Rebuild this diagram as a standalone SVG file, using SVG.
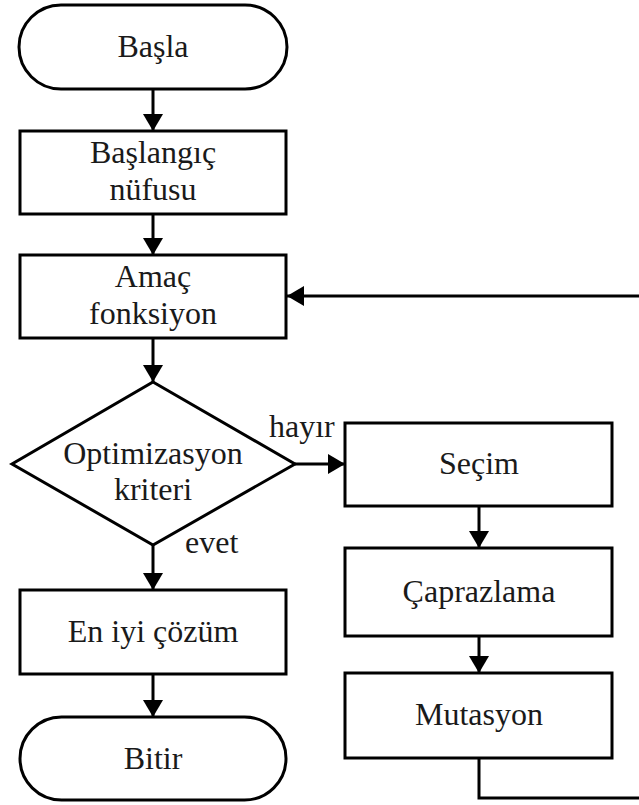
<svg xmlns="http://www.w3.org/2000/svg" width="639" height="805" viewBox="0 0 639 805">
<defs>
<style>
.shape{fill:#fff;stroke:#000;stroke-width:3}
.conn{fill:none;stroke:#000;stroke-width:3}
text{font-family:"Liberation Serif","Times New Roman",serif;font-size:32px;fill:#1a1a1a;text-anchor:middle}
.lbl{text-anchor:start}
</style>
<marker id="arr" markerUnits="userSpaceOnUse" markerWidth="22" markerHeight="22" viewBox="0 0 22 22" refX="17" refY="11" orient="auto">
<path d="M0,1 L17,11 L0,21 z" fill="#000"/>
</marker>
</defs>
<rect width="639" height="805" fill="#fff"/>
<g id="connectors">
<line class="conn" x1="153" y1="89" x2="153" y2="131" marker-end="url(#arr)"/>
<line class="conn" x1="153" y1="214" x2="153" y2="255" marker-end="url(#arr)"/>
<line class="conn" x1="153" y1="338" x2="153" y2="382" marker-end="url(#arr)"/>
<line class="conn" x1="295" y1="464" x2="345" y2="464" marker-end="url(#arr)"/>
<line class="conn" x1="153" y1="545" x2="153" y2="590" marker-end="url(#arr)"/>
<line class="conn" x1="153" y1="674" x2="153" y2="717" marker-end="url(#arr)"/>
<line class="conn" x1="479" y1="506" x2="479" y2="548" marker-end="url(#arr)"/>
<line class="conn" x1="479" y1="636" x2="479" y2="673" marker-end="url(#arr)"/>
<path class="conn" d="M479,758 V798 H643 V296 H287" marker-end="url(#arr)"/>
<text class="lbl" x="269" y="437">hayır</text>
<text class="lbl" x="185" y="553">evet</text>
</g>
<g id="basla">
<rect class="shape" x="19" y="5" width="268" height="84" rx="42" ry="42"/>
<text x="153" y="57">Başla</text>
</g>
<g id="baslangic">
<rect class="shape" x="20" y="131" width="266" height="83"/>
<text x="153" y="163">Başlangıç</text>
<text x="153" y="200">nüfusu</text>
</g>
<g id="amac">
<rect class="shape" x="20" y="255" width="266" height="83"/>
<text x="153" y="287">Amaç</text>
<text x="153" y="324">fonksiyon</text>
</g>
<g id="optimizasyon">
<polygon class="shape" points="153,382 295,464 153,545 12,464"/>
<text x="153" y="464">Optimizasyon</text>
<text x="153" y="500">kriteri</text>
</g>
<g id="secim">
<rect class="shape" x="345" y="423" width="267" height="83"/>
<text x="479" y="474">Seçim</text>
</g>
<g id="caprazlama">
<rect class="shape" x="345" y="548" width="267" height="88"/>
<text x="479" y="602">Çaprazlama</text>
</g>
<g id="mutasyon">
<rect class="shape" x="345" y="673" width="267" height="85"/>
<text x="479" y="725">Mutasyon</text>
</g>
<g id="eniyi">
<rect class="shape" x="20" y="590" width="266" height="84"/>
<text x="153" y="642">En iyi çözüm</text>
</g>
<g id="bitir">
<rect class="shape" x="20" y="717" width="266" height="83" rx="41.5" ry="41.5"/>
<text x="153" y="769">Bitir</text>
</g>
</svg>
